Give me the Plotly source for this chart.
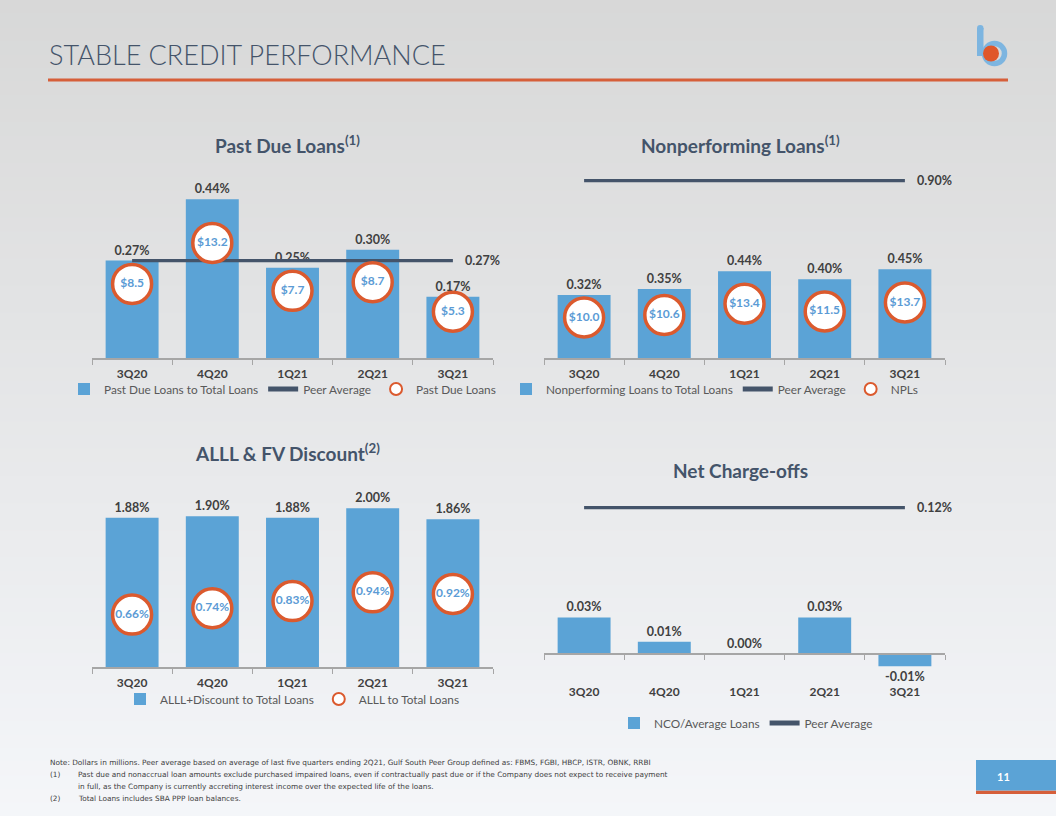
import plotly.graph_objects as go

# ---------------- data ----------------
quarters = ["3Q20", "4Q20", "1Q21", "2Q21", "3Q21"]

past_due_pct = [0.27, 0.44, 0.25, 0.30, 0.17]
past_due_peer = [0.27, 0.27, 0.27, 0.27, 0.27]
past_due_amt = [8.5, 13.2, 7.7, 8.7, 5.3]

npl_pct = [0.32, 0.35, 0.44, 0.40, 0.45]
npl_peer = [0.90, 0.90, 0.90, 0.90, 0.90]
npl_amt = [10.0, 10.6, 13.4, 11.5, 13.7]

alll_disc_pct = [1.88, 1.90, 1.88, 2.00, 1.86]
alll_pct = [0.66, 0.74, 0.83, 0.94, 0.92]

nco_pct = [0.03, 0.01, 0.00, 0.03, -0.01]
nco_peer = [0.12, 0.12, 0.12, 0.12, 0.12]

# ---------------- styling ----------------
W, H = 1056, 816
FONT = "Lato"
BAR = "#5BA3D6"
ORANGE = "#DB5A2E"
PEER = "#44546A"
LABEL = "#404040"
CIRCLE_TXT = "#5B9BD5"
AXIS = "#A6A6A6"
TITLE = "#44546A"


def X(px):
    return px / W


def Y(py):
    return 1 - py / H


fig = go.Figure()
ann = []


def bars(y, xa, ya, name, legend):
    fig.add_trace(go.Bar(
        x=quarters, y=y, xaxis=xa, yaxis=ya, name=name, legend=legend,
        marker=dict(color=BAR, line=dict(width=0)), width=0.66,
        texttemplate="%{y:.2f}%", textposition="outside",
        textfont=dict(family=FONT, size=12.5, color=LABEL, weight="bold"),
        cliponaxis=False, hoverinfo="x+y"))


def peer(y, xa, ya, legend):
    fig.add_trace(go.Scatter(
        x=quarters, y=y, xaxis=xa, yaxis=ya, mode="lines", name="Peer Average",
        legend=legend, line=dict(color=PEER, width=3.2), cliponaxis=False))
    ann.append(dict(xref=xa, yref=ya, x=quarters[-1], y=y[-1],
                    text="%.2f%%" % y[-1], showarrow=False, xanchor="left",
                    yanchor="middle", xshift=10,
                    font=dict(family=FONT, size=12.5, color=LABEL, weight="bold")))


def rings(y, xa, ya, name, legend, fmt):
    fig.add_trace(go.Scatter(
        x=quarters, y=y, xaxis=xa, yaxis=ya, mode="markers", name=name,
        legend=legend,
        marker=dict(symbol="circle", size=39, color="white",
                    line=dict(color=ORANGE, width=3.5)),
        cliponaxis=False))
    fig.add_trace(go.Scatter(
        x=quarters, y=y, xaxis=xa, yaxis=ya, mode="text",
        texttemplate=fmt, textposition="middle center",
        textfont=dict(family=FONT, size=12, color=CIRCLE_TXT, weight="bold"),
        showlegend=False, cliponaxis=False, hoverinfo="skip"))


# Chart 1: Past Due Loans
bars(past_due_pct, "x", "y", "Past Due Loans to Total Loans", "legend")
peer(past_due_peer, "x", "y", "legend")
rings(past_due_amt, "x", "y2", "Past Due Loans", "legend", "$%{y:.1f}")

# Chart 2: Nonperforming Loans
bars(npl_pct, "x2", "y3", "Nonperforming Loans to Total Loans", "legend2")
peer(npl_peer, "x2", "y3", "legend2")
rings(npl_amt, "x2", "y4", "NPLs", "legend2", "$%{y:.1f}")

# Chart 3: ALLL & FV Discount
bars(alll_disc_pct, "x3", "y5", "ALLL+Discount to Total Loans", "legend3")
rings(alll_pct, "x3", "y5", "ALLL to Total Loans", "legend3", "%{y:.2f}%")

# Chart 4: Net Charge-offs
bars(nco_pct, "x4", "y6", "NCO/Average Loans", "legend4")
peer(nco_peer, "x4", "y6", "legend4")

# ---------------- axes ----------------
xcommon = dict(type="category", range=[-0.5, 4.5], showline=True, linecolor=AXIS,
               linewidth=1.5, ticks="outside", tickson="boundaries", ticklen=5,
               tickcolor=AXIS, tickwidth=1.2, showgrid=False, zeroline=False,
               tickfont=dict(family=FONT, size=12, color=LABEL, weight="bold"),
               fixedrange=True)
hidden = dict(visible=False, showgrid=False, zeroline=False, fixedrange=True)

fig.update_layout(
    xaxis=dict(domain=[X(92), X(493)], anchor="y", ticklabelstandoff=4, **xcommon),
    yaxis=dict(domain=[Y(358), Y(150)], range=[0, 208 / 361], anchor="x", **hidden),
    yaxis2=dict(overlaying="y", range=[0, 208 / 8.72], anchor="x", **hidden),

    xaxis2=dict(domain=[X(544), X(945)], anchor="y3", ticklabelstandoff=4, **xcommon),
    yaxis3=dict(domain=[Y(358), Y(150)], range=[0, 208 / 197], anchor="x2", **hidden),
    yaxis4=dict(overlaying="y3", range=[0, 208 / 4.05], anchor="x2", **hidden),

    xaxis3=dict(domain=[X(92), X(493)], anchor="y5", ticklabelstandoff=4, **xcommon),
    yaxis5=dict(domain=[Y(667), Y(480)], range=[0, 187 / 79.4], anchor="x3", **hidden),

    xaxis4=dict(domain=[X(544), X(945)], anchor="free", position=Y(654),
                ticklabelstandoff=27, **xcommon),
    yaxis6=dict(domain=[Y(684), Y(480)], range=[-30 / 1220, 174 / 1220],
                anchor="x4", **hidden),
)

# ---------------- legends ----------------
legfont = dict(family=FONT, size=11.8, color="#595959")
legcommon = dict(orientation="h", xanchor="left", yanchor="middle",
                 bgcolor="rgba(0,0,0,0)", font=legfont, itemwidth=30,
                 itemsizing="constant", tracegroupgap=0,
                 itemclick=False, itemdoubleclick=False)
fig.update_layout(
    showlegend=True,
    legend=dict(x=X(64), y=Y(389), **legcommon),
    legend2=dict(x=X(506), y=Y(389), **legcommon),
    legend3=dict(x=X(120), y=Y(699), **legcommon),
    legend4=dict(x=X(614), y=Y(723), **legcommon),
)

# ---------------- background gradient ----------------
shapes = []
n = 60
c0 = (216, 216, 216)
c1 = (244, 246, 249)
for i in range(n):
    t = i / (n - 1)
    col = tuple(round(c0[k] + (c1[k] - c0[k]) * t) for k in range(3))
    shapes.append(dict(type="rect", xref="paper", yref="paper", layer="below",
                       x0=0, x1=1, y0=1 - (i + 1) / n - 0.001, y1=1 - i / n,
                       fillcolor="rgb(%d,%d,%d)" % col, line=dict(width=0)))

# header rule
shapes.append(dict(type="line", xref="paper", yref="paper", x0=X(48), x1=X(1008),
                   y0=Y(80), y1=Y(80), line=dict(color="#D65F3A", width=3)))
# logo
LOGO_B = "#7DB5E0"
shapes += [
    dict(type="rect", xref="paper", yref="paper", x0=X(977), x1=X(983.5), y0=Y(56), y1=Y(28),
         fillcolor=LOGO_B, line=dict(width=0)),
    dict(type="circle", xref="paper", yref="paper", x0=X(977), x1=X(983.5), y0=Y(31.5), y1=Y(25),
         fillcolor=LOGO_B, line=dict(width=0)),
    dict(type="circle", xref="paper", yref="paper", x0=X(984.5), x1=X(1004.5), y0=Y(63.5), y1=Y(43.5),
         fillcolor="rgba(0,0,0,0)", line=dict(color=LOGO_B, width=5.5)),
    dict(type="circle", xref="paper", yref="paper", x0=X(983), x1=X(999), y0=Y(61.5), y1=Y(45.5),
         fillcolor="#E0572A", line=dict(width=0)),
]
# page number box
shapes += [
    dict(type="rect", xref="paper", yref="paper", x0=X(976), x1=1, y0=Y(794), y1=Y(790.5),
         fillcolor="#D65F3A", line=dict(width=0)),
    dict(type="rect", xref="paper", yref="paper", x0=X(976), x1=1, y0=Y(790.5), y1=Y(760),
         fillcolor="#5BA3D6", line=dict(width=0)),
]
fig.update_layout(shapes=shapes)

# ---------------- annotations ----------------


def text(px, py, s, size, color, anchor="center", weight="normal", family=FONT):
    ann.append(dict(xref="paper", yref="paper", x=X(px), y=Y(py), text=s,
                    showarrow=False, xanchor=anchor, yanchor="middle",
                    font=dict(family=family, size=size, color=color, weight=weight)))


text(47, 55, "STABLE CREDIT PERFORMANCE", 27, TITLE, anchor="left", weight=300)
text(287, 144, "Past Due Loans<sup>(1)</sup>", 19, TITLE, weight="bold")
text(740, 144, "Nonperforming Loans<sup>(1)</sup>", 19, TITLE, weight="bold")
text(287, 452, "ALLL &amp; FV Discount<sup>(2)</sup>", 19, TITLE, weight="bold")
text(740, 471, "Net Charge-offs", 19, TITLE, weight="bold")

note = "#404040"
NF = "DejaVu Sans"
NS = 7.35
text(48, 762, "Note: Dollars in millions. Peer average based on average of last five quarters ending 2Q21, "
     "Gulf South Peer Group defined as: FBMS, FGBI, HBCP, ISTR, OBNK, RRBI", NS, note, anchor="left", family=NF)
text(48, 774, "(1)", NS, note, anchor="left", family=NF)
text(76, 774, "Past due and nonaccrual loan amounts exclude purchased impaired loans, even if contractually "
     "past due or if the Company does not expect to receive payment", NS, note, anchor="left", family=NF)
text(76, 786, "in full, as the Company is currently accreting interest income over the expected life of the loans.",
     NS, note, anchor="left", family=NF)
text(48, 798, "(2)", NS, note, anchor="left", family=NF)
text(76, 798, "Total Loans includes SBA PPP loan balances.", NS, note, anchor="left", family=NF)
text(1003, 776, "11", 11, "white", weight="bold")

fig.update_layout(
    annotations=ann,
    width=W, height=H,
    margin=dict(l=0, r=0, t=0, b=0),
    paper_bgcolor="#D8D8D8",
    plot_bgcolor="rgba(0,0,0,0)",
    font=dict(family=FONT, color=LABEL),
    hovermode="closest",
)

fig.write_html("out.html", config={"displayModeBar": False},
               post_script="document.body.style.margin='0';document.body.style.overflow='hidden';")
